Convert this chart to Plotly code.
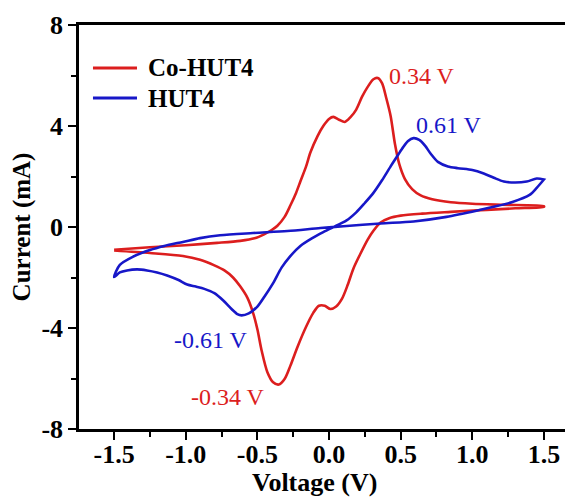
import plotly.graph_objects as go

# Co-HUT4 (red) loop: forward (anodic) branch then reverse (cathodic) branch
red_v_fwd = [-1.50, -1.25, -1.00, -0.78, -0.62, -0.52, -0.45, -0.40, -0.36, -0.31, -0.27, -0.23,
             -0.20, -0.16, -0.13, -0.08, -0.04, 0.00, 0.03, 0.07, 0.11, 0.15, 0.19, 0.23, 0.27,
             0.31, 0.34, 0.37, 0.40, 0.43, 0.46, 0.49, 0.53, 0.58, 0.64, 0.72, 0.85, 1.00, 1.20, 1.50]
red_i_fwd = [-0.90, -0.80, -0.72, -0.63, -0.55, -0.45, -0.28, -0.12, 0.05, 0.40, 0.85, 1.35,
             1.80, 2.40, 2.95, 3.60, 4.00, 4.28, 4.36, 4.25, 4.16, 4.35, 4.65, 5.15, 5.55,
             5.85, 5.90, 5.70, 5.10, 4.40, 3.30, 2.50, 1.90, 1.50, 1.25, 1.10, 0.98, 0.92, 0.88, 0.83]
red_v_rev = [1.50, 1.30, 1.10, 0.85, 0.65, 0.50, 0.42, 0.36, 0.31, 0.27, 0.22, 0.17, 0.13, 0.09,
             0.05, 0.01, -0.03, -0.07, -0.11, -0.16, -0.22, -0.27, -0.31, -0.35, -0.39, -0.43,
             -0.47, -0.50, -0.53, -0.57, -0.62, -0.67, -0.73, -0.80, -0.90, -1.02, -1.25, -1.50]
red_i_rev = [0.80, 0.74, 0.68, 0.60, 0.53, 0.45, 0.35, 0.18, -0.15, -0.50, -1.05, -1.65, -2.30, -2.85,
             -3.15, -3.25, -3.12, -3.12, -3.40, -3.95, -4.75, -5.50, -6.02, -6.24, -6.15, -5.75,
             -4.90, -4.05, -3.40, -2.80, -2.35, -2.00, -1.72, -1.52, -1.30, -1.15, -1.03, -0.93]

# HUT4 (blue) loop: wavy branch (-1.5 -> 1.5) then smooth branch back
blue_v_a = [-1.50, -1.46, -1.41, -1.34, -1.27, -1.20, -1.13, -1.05, -0.99, -0.93, -0.87, -0.80,
            -0.74, -0.68, -0.64, -0.61, -0.56, -0.50, -0.45, -0.39, -0.33, -0.27, -0.20, -0.12,
            -0.04, 0.05, 0.12, 0.19, 0.25, 0.31, 0.37, 0.43, 0.47, 0.51, 0.55, 0.59, 0.63, 0.67,
            0.71, 0.76, 0.83, 0.90, 1.00, 1.08, 1.15, 1.22, 1.30, 1.38, 1.45, 1.50]
blue_i_a = [-1.98, -1.80, -1.72, -1.68, -1.72, -1.80, -1.92, -2.10, -2.28, -2.36, -2.45, -2.62,
            -2.90, -3.25, -3.45, -3.50, -3.42, -3.15, -2.75, -2.22, -1.60, -1.15, -0.75, -0.45,
            -0.20, 0.05, 0.25, 0.58, 0.95, 1.35, 1.85, 2.40, 2.75, 3.10, 3.40, 3.52, 3.45, 3.22,
            2.90, 2.58, 2.40, 2.33, 2.26, 2.12, 1.95, 1.80, 1.76, 1.80, 1.92, 1.88]
blue_v_b = [1.50, 1.45, 1.40, 1.28, 1.15, 1.05, 0.82, 0.59, 0.36, 0.10, -0.06, -0.29, -0.53,
            -0.76, -0.90, -1.02, -1.15, -1.25, -1.37, -1.46, -1.50]
blue_i_b = [1.88, 1.55, 1.27, 0.99, 0.80, 0.67, 0.40, 0.22, 0.14, 0.03, -0.04, -0.16, -0.24,
            -0.33, -0.44, -0.59, -0.75, -0.91, -1.18, -1.50, -1.98]

series_names = ["Co-HUT4", "HUT4"]

x_ticks = [-1.5, -1.0, -0.5, 0.0, 0.5, 1.0, 1.5]
x_tick_text = ["-1.5", "-1.0", "-0.5", "0.0", "0.5", "1.0", "1.5"]
y_ticks = [-8, -4, 0, 4, 8]
y_tick_text = ["-8", "-4", "0", "4", "8"]

peak_labels = ["0.34 V", "0.61 V", "-0.61 V", "-0.34 V"]
peak_x = [0.405, 0.595, -1.095, -0.975]
peak_y = [5.98, 4.04, -4.48, -6.73]

RED = "#dc1e1e"
BLUE = "#1717c8"
peak_colors = [RED, BLUE, BLUE, RED]
FONT = "Liberation Serif"

fig = go.Figure()
fig.add_trace(go.Scatter(x=red_v_fwd + red_v_rev, y=red_i_fwd + red_i_rev, mode="lines",
                         name=series_names[0], showlegend=False,
                         line=dict(color=RED, width=2.6, shape="spline", smoothing=0.8)))
fig.add_trace(go.Scatter(x=blue_v_a + blue_v_b, y=blue_i_a + blue_i_b, mode="lines",
                         name=series_names[1], showlegend=False,
                         line=dict(color=BLUE, width=2.6, shape="spline", smoothing=0.8)))

for t, x, y, c in zip(peak_labels, peak_x, peak_y, peak_colors):
    fig.add_annotation(x=x, y=y, text=t, showarrow=False, xanchor="left", yanchor="middle",
                       font=dict(family=FONT, size=24, color=c))

# legend drawn as line samples + labels at top-left of the plot
legend_y = [0.8936, 0.8193]
for name, c, ly in zip(series_names, [RED, BLUE], legend_y):
    fig.add_shape(type="line", xref="paper", yref="paper", x0=0.0283, x1=0.1174, y0=ly, y1=ly,
                  line=dict(color=c, width=2.8))
    fig.add_annotation(xref="paper", yref="paper", x=0.1377, y=ly, text=name, showarrow=False,
                       xanchor="left", yanchor="middle", borderpad=0,
                       font=dict(family=FONT, size=25, color="black", weight="bold"))

# x-axis title
fig.add_annotation(xref="paper", yref="paper", x=0.476, y=-0.132, text="Voltage (V)", showarrow=False,
                   xanchor="center", yanchor="middle",
                   font=dict(family=FONT, size=26, color="black", weight="bold"))

# page body adds an 8 px offset; plot area lands at x 79..573, y 25..429 of the window
fig.update_layout(
    width=565, height=489,
    margin=dict(l=71, r=0, t=17, b=68),
    paper_bgcolor="white", plot_bgcolor="white",
    font=dict(family=FONT, color="black"),
    showlegend=False,
)
fig.update_xaxes(
    range=[-1.745, 1.703], showgrid=False, zeroline=False, automargin=False,
    showline=True, linecolor="black", linewidth=2.5, mirror=True,
    ticks="outside", ticklen=8, tickwidth=2, tickcolor="black",
    tickvals=x_ticks, ticktext=x_tick_text, ticklabelstandoff=-8,
    tickfont=dict(family=FONT, size=26, color="black", weight="bold"),
    minor=dict(dtick=0.25, tick0=-1.5, ticks="outside", ticklen=5, tickwidth=2, tickcolor="black"),
)
fig.update_yaxes(
    range=[-8, 8], showgrid=False, zeroline=False, automargin=False,
    showline=True, linecolor="black", linewidth=2.5, mirror=False,
    ticks="outside", ticklen=8, tickwidth=2, tickcolor="black",
    tickvals=y_ticks, ticktext=y_tick_text, ticklabelstandoff=0,
    tickfont=dict(family=FONT, size=26, color="black", weight="bold"),
    minor=dict(dtick=2, tick0=0, ticks="outside", ticklen=5, tickwidth=2, tickcolor="black"),
    title=dict(text="Current (mA)", font=dict(family=FONT, size=25, color="black", weight="bold"), standoff=4),
)

fig.write_html("out.html")
